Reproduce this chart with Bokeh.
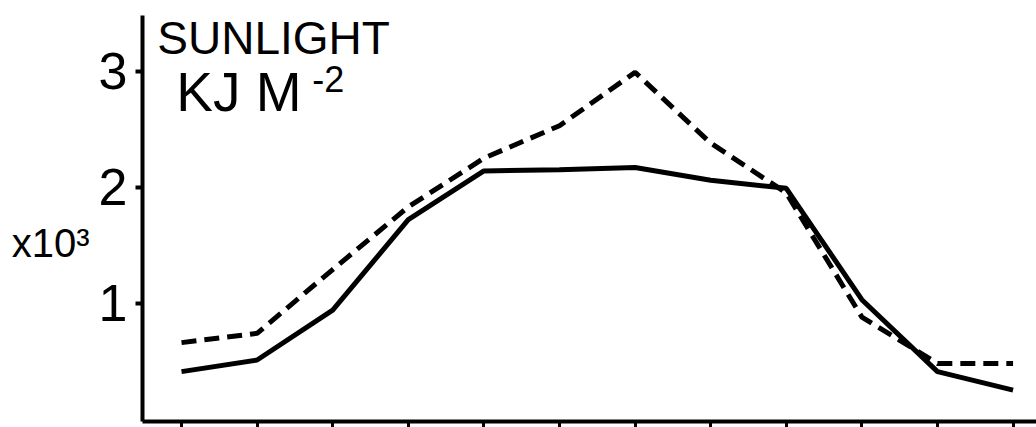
from bokeh.plotting import figure
from bokeh.models import Label, FixedTicker, Range1d, LinearAxis
from bokeh.embed import file_html
from bokeh.resources import INLINE

months = [1, 2, 3, 4, 5, 6, 7, 8, 9, 10, 11, 12]
solid_vals = [0.41, 0.51, 0.94, 1.72, 2.14, 2.15, 2.17, 2.06, 1.99, 1.03, 0.41, 0.25]
dashed_vals = [0.66, 0.74, 1.29, 1.83, 2.25, 2.53, 2.99, 2.38, 1.95, 0.88, 0.48, 0.48]
y_ticks = [1, 2, 3]
y_tick_labels = {1: "1", 2: "2", 3: "3"}
x_tick_labels = {m: "" for m in months}

FONT = "Liberation Sans"

p = figure(width=1036, height=427, output_backend="svg", toolbar_location=None,
           x_range=Range1d(0.484, 12.31), y_range=Range1d(-0.02, 3.48),
           min_border_left=142, min_border_right=0, min_border_top=15, min_border_bottom=0)
p.outline_line_color = None
p.grid.visible = False
p.background_fill_color = "white"
p.border_fill_color = "white"

p.line(months, solid_vals, line_color="black", line_width=5)
p.line(months, dashed_vals, line_color="black", line_width=5, line_dash="15 8")

p.yaxis.ticker = FixedTicker(ticks=y_ticks)
p.yaxis.major_label_overrides = y_tick_labels
p.yaxis.major_label_text_font = FONT
p.yaxis.major_label_text_font_size = "52px"
p.yaxis.major_label_text_color = "black"
p.yaxis.major_label_standoff = 8
p.yaxis.major_tick_out = 7
p.yaxis.major_tick_in = 0
p.yaxis.minor_tick_line_color = None
p.yaxis.axis_line_width = 4
p.yaxis.major_tick_line_width = 4

# unit label as a second left axis carrying a single tick label
unit_axis = LinearAxis(ticker=FixedTicker(ticks=[1.52]), major_label_overrides={1.52: "x10³"},
                       axis_line_color=None, major_tick_line_color=None,
                       minor_tick_line_color=None, major_label_standoff=0,
                       major_label_text_font=FONT, major_label_text_font_size="40px",
                       major_label_text_color="black")
p.add_layout(unit_axis, "left")

p.xaxis.ticker = FixedTicker(ticks=months)
p.xaxis.major_label_overrides = x_tick_labels
p.xaxis.major_label_text_font_size = "1px"
p.xaxis.major_label_standoff = 0
p.xaxis.major_tick_out = 6
p.xaxis.major_tick_in = 0
p.xaxis.minor_tick_line_color = None
p.xaxis.axis_line_width = 4
p.xaxis.major_tick_line_width = 3

def lab(x, y, text, size):
    p.add_layout(Label(x=x, y=y, text=text, text_font=FONT, text_font_size=size,
                       text_baseline="alphabetic", text_align="left", text_color="black"))

lab(0.68, 3.29, "SUNLIGHT", "46px")
lab(0.93, 2.82, "KJ M", "55px")
lab(2.73, 2.93, "-2", "36px")

open("out.html", "w").write(file_html(p, INLINE))
